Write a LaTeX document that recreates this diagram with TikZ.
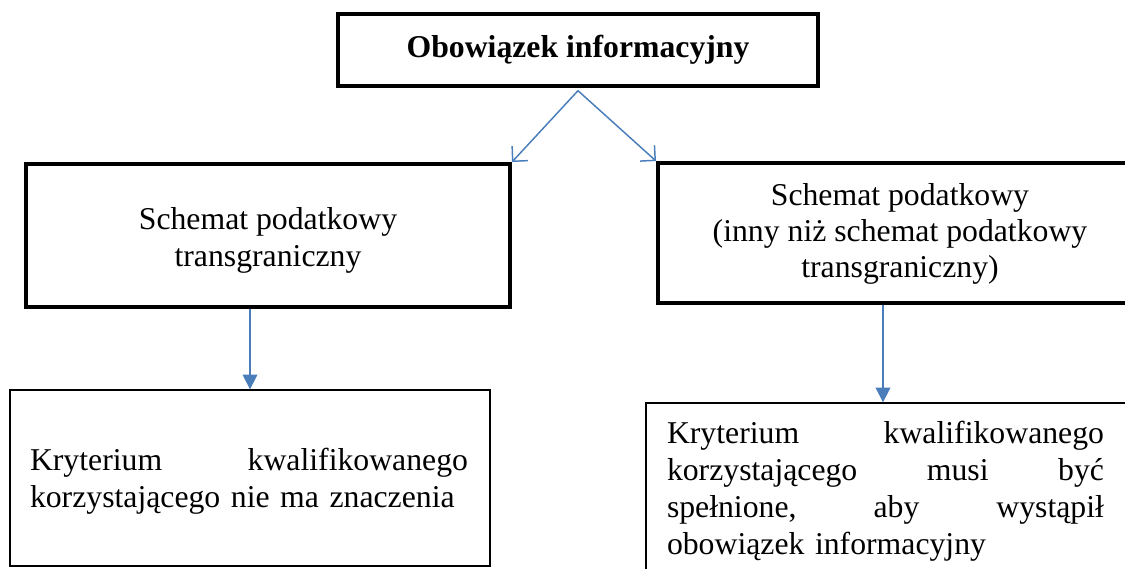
\documentclass[tikz,border=0pt]{standalone}
\usepackage{fontspec}
\setmainfont{Liberation Serif}
\usetikzlibrary{arrows.meta}
\definecolor{arrowblue}{RGB}{74,126,187}
\begin{document}
\begin{tikzpicture}[x=0.75pt,y=-0.75pt,
  heavybox/.style={draw=black, line width=3pt, rectangle, inner sep=0pt},
  lightbox/.style={draw=black, line width=1pt, rectangle, inner sep=0pt},
  txt/.style={inner sep=0pt, font=\fontsize{23.8}{27.75}\selectfont},
  openarrow/.style={draw=arrowblue, line width=1.1pt, -{Straight Barb[length=8pt,width=16pt]}},
  filledarrow/.style={draw=arrowblue, line width=1.1pt, -{Triangle[length=11pt,width=11pt]}}]
\useasboundingbox (0,0) rectangle (1125,568);
\clip (0,0) rectangle (1125,568);
% boxes
\node[heavybox, minimum width=360pt, minimum height=54pt] (top) at (578,50) {};
\node[heavybox, minimum width=363pt, minimum height=107.25pt] (ul) at (268,235.5) {};
\node[heavybox, minimum width=363pt, minimum height=105pt] (ur) at (900,233) {};
\node[lightbox, minimum width=360pt, minimum height=132pt] (ll) at (250,478) {};
\node[lightbox, minimum width=366.75pt, minimum height=140.25pt] (lr) at (890.5,496.5) {};
% texts
\node[txt, font=\fontsize{23.8}{27.75}\selectfont\bfseries, anchor=base] (toptext) at (578,57) {Obowiązek informacyjny};
\node[txt, align=center] (ultext) at (268,240) {Schemat podatkowy\\transgraniczny};
\node[txt, align=center, font=\fontsize{23.8}{27}\selectfont] (urtext) at (900,233.5) {Schemat podatkowy\\(inny niż schemat podatkowy\\transgraniczny)};
\node[txt, text width=328.5pt, align=left] (lltext) at (249,481) {Kryterium\hfill kwalifikowanego\\korzystającego nie ma znaczenia};
\node[txt, text width=327.75pt, align=left] (lrtext) at (885.5,491) {Kryterium\hfill kwalifikowanego\\korzystającego\hfill musi\hfill być\\spełnione,\hfill aby\hfill wystąpił\\obowiązek informacyjny};
% connectors
\coordinate (apex) at ([yshift=-2pt]top.south);
\draw[openarrow] (apex) -- (ul.north east);
\draw[openarrow] (apex) -- (ur.north west);
\draw[filledarrow] (ll.north |- ul.south) -- (ll.north);
\coordinate (rx) at (883,0);
\draw[filledarrow] (rx |- ur.south) -- (rx |- lr.north);
\end{tikzpicture}
\end{document}
